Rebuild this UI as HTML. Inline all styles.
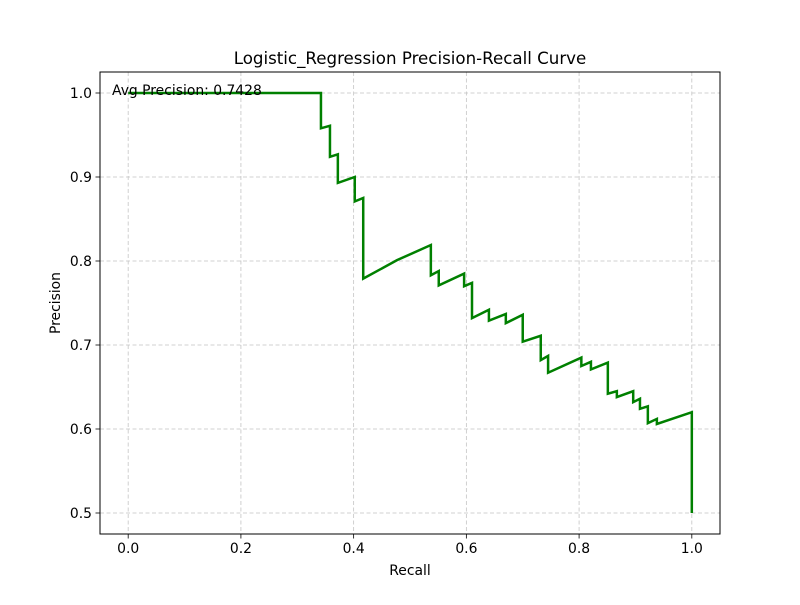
<!DOCTYPE html>
<html><head><meta charset="utf-8"><style>
body{margin:0;background:#fff;}
svg{font-family:"DejaVu Sans","Liberation Sans",sans-serif;}
</style></head><body>
<svg id="chart" width="800" height="600" viewBox="0 0 800 600">
<rect width="800" height="600" fill="#fff"/>
<g id="grid"></g>
<g id="series"></g>
<rect x="100" y="72" width="620" height="462" fill="none" stroke="#000" stroke-width="1"/>
<g id="xticks"></g>
<g id="yticks"></g>
<text x="410" y="64" font-size="16.67" text-anchor="middle">Logistic_Regression Precision-Recall Curve</text>
<text x="410" y="575" font-size="13.9" text-anchor="middle">Recall</text>
<text x="60" y="303" font-size="13.9" text-anchor="middle" transform="rotate(-90 60 303)">Precision</text>
<text x="112" y="95" font-size="13.9">Avg Precision: 0.7428</text>
</svg>
<script>
const recall = [0,0.342,0.342,0.358,0.358,0.372,0.372,0.402,0.402,0.417,0.417,0.477,0.537,0.537,0.551,0.551,0.596,0.596,0.610,0.610,0.640,0.640,0.670,0.670,0.700,0.700,0.732,0.732,0.745,0.745,0.804,0.804,0.821,0.821,0.851,0.851,0.867,0.867,0.896,0.896,0.908,0.908,0.922,0.922,0.938,0.938,1.0,1.0];
const precision = [1.0,1.0,0.958,0.961,0.924,0.927,0.893,0.900,0.871,0.875,0.779,0.801,0.819,0.783,0.788,0.771,0.785,0.770,0.774,0.732,0.742,0.729,0.737,0.726,0.736,0.704,0.711,0.682,0.687,0.667,0.685,0.675,0.680,0.671,0.679,0.642,0.645,0.638,0.645,0.632,0.636,0.624,0.627,0.607,0.612,0.606,0.620,0.5];
const xTickValues = [0,0.2,0.4,0.6,0.8,1.0];
const xTickLabels = ["0.0","0.2","0.4","0.6","0.8","1.0"];
const yTickValues = [0.5,0.6,0.7,0.8,0.9,1.0];
const yTickLabels = ["0.5","0.6","0.7","0.8","0.9","1.0"];

const NS="http://www.w3.org/2000/svg";
const X0=100,X1=720,Y0=534,Y1=72;
const xmin=-0.05,xmax=1.05,ymin=0.475,ymax=1.025;
function sx(v){return X0+(v-xmin)/(xmax-xmin)*(X1-X0);}
function sy(v){return Y0-(v-ymin)/(ymax-ymin)*(Y0-Y1);}
function mk(tag,attrs,parent){const e=document.createElementNS(NS,tag);for(const k in attrs)e.setAttribute(k,attrs[k]);parent.appendChild(e);return e;}
const grid=document.getElementById('grid'),xt=document.getElementById('xticks'),yt=document.getElementById('yticks'),ser=document.getElementById('series');
xTickValues.forEach((v,i)=>{
  const x=sx(v);
  const g=mk('line',{x1:x,x2:x,y1:Y1,y2:Y0,stroke:'#c4c4c4','stroke-dasharray':'4,2.5','stroke-width':0.8},grid);
  
  
  const t=mk('line',{x1:x,x2:x,y1:Y0,y2:Y0+4.5,stroke:'#000','stroke-width':0.8},xt);
  
  
  const l=mk('text',{x:x,y:Y0+19,'font-size':13.9,'text-anchor':'middle'},xt);
  l.textContent=xTickLabels[i];
  
  
});
yTickValues.forEach((v,i)=>{
  const y=sy(v);
  const g=mk('line',{x1:X0,x2:X1,y1:y,y2:y,stroke:'#c4c4c4','stroke-dasharray':'4,2.5','stroke-width':0.8},grid);
  
  
  const t=mk('line',{x1:X0-4.5,x2:X0,y1:y,y2:y,stroke:'#000','stroke-width':0.8},yt);
  
  
  const l=mk('text',{x:X0-8,y:y+4.8,'font-size':13.9,'text-anchor':'end'},yt);
  l.textContent=yTickLabels[i];
  
  
});
const pts=recall.map((r,i)=>sx(r).toFixed(2)+','+sy(precision[i]).toFixed(2)).join(' ');
const pl=mk('polyline',{points:pts,fill:'none',stroke:'#008000','stroke-width':2.5,'stroke-linejoin':'miter'},ser);


</script>
</body></html>
